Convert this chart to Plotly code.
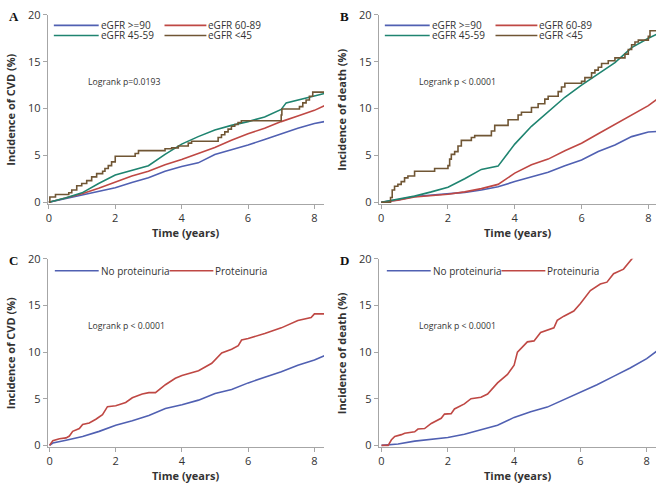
import plotly.graph_objects as go

W, H = 660, 489

# ---------------- data ----------------
grid18 = [0, 0.5, 1, 1.5, 2, 2.5, 3, 3.5, 4, 4.5, 5, 5.5, 6, 6.5, 7, 7.5, 8, 8.3]

# Panel A: CVD by eGFR
A_blue = [0, 0.4, 0.8, 1.15, 1.55, 2.1, 2.6, 3.3, 3.8, 4.2, 5.1, 5.6, 6.1, 6.7, 7.3, 7.9, 8.4, 8.6]
A_red = [0, 0.45, 0.9, 1.5, 2.15, 2.8, 3.3, 4.0, 4.55, 5.2, 5.85, 6.6, 7.3, 7.9, 8.6, 9.2, 9.8, 10.3]
A_green_t = [0, 0.5, 1, 1.5, 2, 2.5, 3, 3.5, 4, 4.5, 5, 5.5, 6, 6.5, 7.0, 7.15, 7.5, 8, 8.3]
A_green = [0, 0.45, 1.0, 2.0, 2.9, 3.4, 3.9, 5.1, 6.2, 7.0, 7.7, 8.2, 8.6, 9.1, 9.9, 10.6, 10.9, 11.35, 11.6]
A_brown_t = [0, 0.03, 0.2, 0.6, 0.69, 0.84, 0.99, 1.14, 1.29, 1.44, 1.62, 1.69, 1.79, 1.89, 2.0,
             2.6, 2.7, 3.5, 3.7, 3.9, 4.2, 4.3, 5.1, 5.2, 5.3, 5.4, 5.5, 5.6, 5.7, 5.8,
             7.0, 7.02, 7.55, 7.65, 7.75, 7.85, 7.95, 8.3]
A_brown = [0, 0.55, 0.82, 1.0, 1.3, 1.75, 2.0, 2.3, 2.7, 3.05, 3.3, 3.6, 3.9, 4.3, 4.9,
           5.2, 5.5, 5.7, 5.8, 6.0, 6.3, 6.5, 6.9, 7.2, 7.5, 7.8, 8.1, 8.3, 8.5, 8.7,
           9.3, 9.95, 10.2, 10.6, 10.9, 11.3, 11.75, 11.75]

# Panel B: death by eGFR
B_blue = [0, 0.25, 0.6, 0.75, 0.87, 1.05, 1.3, 1.65, 2.2, 2.7, 3.2, 3.9, 4.5, 5.4, 6.1, 7.0, 7.5, 7.55]
B_red = [0, 0.2, 0.55, 0.7, 0.85, 1.1, 1.45, 1.9, 3.1, 4.0, 4.6, 5.5, 6.3, 7.3, 8.3, 9.3, 10.3, 11.1]
B_green = [0, 0.3, 0.65, 1.1, 1.6, 2.5, 3.5, 3.85, 6.2, 8.1, 9.7, 11.2, 12.5, 13.7, 14.9, 16.5, 17.5, 18.0]
B_brown_t = [0, 0.28, 0.33, 0.4, 0.5, 0.6, 0.7, 0.8, 1.0, 1.6, 2.0, 2.05, 2.1, 2.2, 2.3,
             2.4, 2.7, 2.8, 3.3, 3.4, 3.8, 4.1, 4.2, 4.5, 4.7, 4.9, 5.0, 5.3, 5.4, 5.5,
             6.0, 6.1, 6.3, 6.4, 6.5, 6.6, 6.8, 7.0, 7.3, 7.4, 7.5, 7.6, 7.7, 8.0, 8.05, 8.3]
B_brown = [0, 0.5, 1.3, 1.7, 1.9, 2.2, 2.6, 2.8, 3.3, 3.6, 3.9, 4.6, 5.1, 5.4, 6.0,
           6.6, 6.9, 7.1, 7.6, 8.2, 8.8, 9.3, 9.6, 10.1, 10.5, 11.0, 11.3, 11.8, 12.3, 12.7,
           12.9, 13.3, 13.8, 14.1, 14.4, 14.8, 15.1, 15.4, 15.8, 16.3, 16.8, 17.1, 17.3, 17.7, 18.3, 18.3]

# Panel C: CVD by proteinuria
C_blue_t = [0, 0.1, 0.5, 1, 1.5, 2, 2.5, 3, 3.5, 4, 4.5, 5, 5.5, 6, 6.5, 7, 7.5, 8, 8.3]
C_blue = [0, 0.25, 0.55, 0.95, 1.5, 2.15, 2.65, 3.2, 3.95, 4.35, 4.85, 5.55, 6.0, 6.7, 7.3, 7.9, 8.6, 9.15, 9.6]
C_red_t = [0, 0.1, 0.3, 0.5, 0.6, 0.7, 0.9, 1.0, 1.2, 1.4, 1.6, 1.75, 2.0, 2.3, 2.5, 2.8, 3.0,
           3.2, 3.5, 3.8, 4.0, 4.5, 4.9, 5.2, 5.5, 5.7, 5.8, 6.0, 6.5, 7.0, 7.5, 7.9, 8.0, 8.3]
C_red = [0, 0.5, 0.7, 0.8, 1.0, 1.5, 1.8, 2.25, 2.4, 2.8, 3.3, 4.15, 4.25, 4.6, 5.1, 5.5, 5.65,
         5.65, 6.5, 7.2, 7.5, 8.0, 8.8, 9.9, 10.3, 10.7, 11.3, 11.45, 12.0, 12.6, 13.4, 13.7, 14.1, 14.1]

# Panel D: death by proteinuria
D_blue = [0, 0.15, 0.45, 0.65, 0.85, 1.2, 1.65, 2.15, 3.0, 3.6, 4.1, 4.9, 5.75, 6.5, 7.4, 8.3, 9.3, 10.1]
D_red_t = [0, 0.2, 0.3, 0.4, 0.6, 0.7, 1.0, 1.1, 1.3, 1.5, 1.8, 1.9, 2.1, 2.2, 2.5, 2.7, 3.0,
           3.2, 3.5, 3.8, 4.0, 4.1, 4.4, 4.6, 4.8, 5.0, 5.2, 5.3, 5.5, 5.8, 6.0, 6.3, 6.6,
           6.8, 7.0, 7.3, 7.6]
D_red = [0, 0, 0.6, 0.95, 1.15, 1.3, 1.45, 1.75, 1.8, 2.35, 2.9, 3.35, 3.4, 3.9, 4.45, 5.0, 5.15,
         5.5, 6.7, 7.6, 8.6, 10.0, 11.1, 11.2, 12.1, 12.35, 12.6, 13.4, 13.85, 14.4, 15.2, 16.6, 17.3,
         17.5, 18.4, 18.9, 20.2]

egfr_labels = ["eGFR >=90", "eGFR 60-89", "eGFR 45-59", "eGFR <45"]
prot_labels = ["No proteinuria", "Proteinuria"]
x_ticks = [0, 2, 4, 6, 8]
y_ticks = [0, 5, 10, 15, 20]
panel_letters = ["A", "B", "C", "D"]
y_titles = ["Incidence of CVD (%)", "Incidence of death (%)", "Incidence of CVD (%)", "Incidence of death (%)"]
pvals = ["Logrank p=0.0193", "Logrank p < 0.0001", "Logrank p < 0.0001", "Logrank p < 0.0001"]

# ---------------- style ----------------
BLUE, RED, GREEN, BROWN = "#5060b2", "#bf4844", "#1f8470", "#705634"
AXC = "#a6a6a6"
TXT = "#333333"
FONT = "Open Sans"

def fx(p):
    return p / W

def fy(p):
    return 1 - p / H

fig = go.Figure()

def add(t, y, color, ax, shape="linear"):
    fig.add_trace(go.Scatter(x=t, y=y, mode="lines", line=dict(color=color, width=1.6, shape=shape),
                             xaxis="x" + ax, yaxis="y" + ax, showlegend=False, hoverinfo="skip"))

add(grid18, A_blue, BLUE, "")
add(grid18, A_red, RED, "")
add(A_green_t, A_green, GREEN, "")
add(A_brown_t, A_brown, BROWN, "", "hv")

add(grid18, B_blue, BLUE, "2")
add(grid18, B_red, RED, "2")
add(grid18, B_green, GREEN, "2")
add(B_brown_t, B_brown, BROWN, "2", "hv")

add(C_blue_t, C_blue, BLUE, "3")
add(C_red_t, C_red, RED, "3")

add(grid18, D_blue, BLUE, "4")
add(D_red_t, D_red, RED, "4")

# panel geometry in pixels: (left, right, top, bottom), x range, y range
panels = [
    (46, 323, 7, 201, [-0.03, 8.29], [-0.156, 20]),
    (378, 656, 7, 201, [-0.07, 8.23], [-0.156, 20]),
    (46, 323, 257.7, 450.7, [-0.05, 8.29], [-0.146, 20]),
    (378, 656, 257.7, 450.7, [-0.08, 8.28], [-0.146, 20]),
]

layout = dict(width=W, height=H, margin=dict(l=0, r=0, t=0, b=0),
              paper_bgcolor="white", plot_bgcolor="white", showlegend=False)
annotations = []
shapes = []
for i, (l, r, t, b, xr, yr) in enumerate(panels):
    sfx = "" if i == 0 else str(i + 1)
    common = dict(showline=True, linecolor=AXC, linewidth=1, ticks="outside", ticklen=4,
                  tickcolor=AXC, showgrid=False, zeroline=False,
                  tickfont=dict(family=FONT, size=11, color=TXT))
    layout["xaxis" + sfx] = dict(domain=[fx(l), fx(r)], range=xr, tickvals=x_ticks,
                                 anchor="y" + sfx, **common)
    layout["yaxis" + sfx] = dict(domain=[fy(b), fy(t)], range=yr, tickvals=y_ticks,
                                 anchor="x" + sfx, **common)
    annotations.append(dict(text="<b>Time (years)</b>", x=fx((l + r) / 2), y=fy(b + 30),
                            xref="paper", yref="paper", showarrow=False,
                            font=dict(family=FONT, size=11, color=TXT), xanchor="center", yanchor="middle"))
    annotations.append(dict(text="<b>" + y_titles[i] + "</b>", x=fx(l - 37.5), y=fy((t + b) / 2),
                            xref="paper", yref="paper", showarrow=False, textangle=-90,
                            font=dict(family=FONT, size=11, color=TXT), xanchor="center", yanchor="middle"))
    annotations.append(dict(text="<b>" + panel_letters[i] + "</b>", x=fx(l - 34), y=fy(t + 1.5),
                            xref="paper", yref="paper", showarrow=False,
                            font=dict(family="Liberation Serif", size=13, color="#111111"),
                            xanchor="center", yanchor="middle"))
    annotations.append(dict(text=pvals[i], x=fx(l + 38), y=fy(t + 69),
                            xref="paper", yref="paper", showarrow=False,
                            font=dict(family=FONT, size=8.7, color=TXT), xanchor="left", yanchor="middle"))

def legend_item(x0, x1, y, color, label):
    shapes.append(dict(type="line", xref="paper", yref="paper", x0=fx(x0), x1=fx(x1),
                       y0=fy(y), y1=fy(y), line=dict(color=color, width=1.6)))
    annotations.append(dict(text=label, x=fx(x1), y=fy(y), xref="paper", yref="paper",
                            showarrow=False, xanchor="left", yanchor="middle",
                            font=dict(family=FONT, size=10, color=TXT)))

for off in (0, 332):
    legend_item(52 + off, 97 + off, 17.8, BLUE, egfr_labels[0])
    legend_item(163 + off, 205 + off, 17.8, RED, egfr_labels[1])
    legend_item(52 + off, 97 + off, 28.2, GREEN, egfr_labels[2])
    legend_item(163 + off, 205 + off, 28.2, BROWN, egfr_labels[3])
for off in (0, 333):
    legend_item(53 + off, 97 + off, 270, BLUE, prot_labels[0])
    legend_item(168 + off, 212 + off, 270, RED, prot_labels[1])

layout["annotations"] = annotations
layout["shapes"] = shapes
fig.update_layout(**layout)
fig.write_html("out.html", config={"displayModeBar": False},
               post_script="document.body.style.margin='0';document.body.style.padding='0';"
                           "document.body.style.overflow='hidden';")
